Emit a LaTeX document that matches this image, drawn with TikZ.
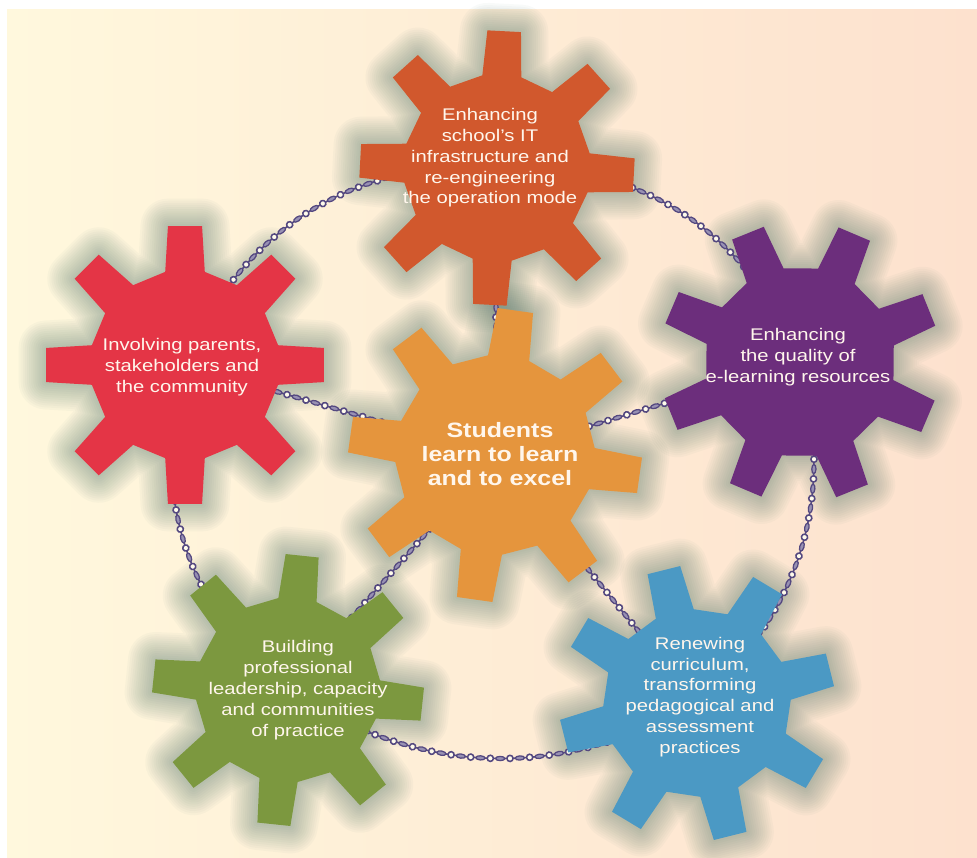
\documentclass[tikz,border=0pt]{standalone}
\usepackage{fontspec}
\setmainfont{Liberation Sans}
\newfontfamily\gearfont[FakeStretch=1.2]{Liberation Sans}
\usetikzlibrary{calc}
\usetikzlibrary{decorations.markings}

\definecolor{bgyellow}{RGB}{255,248,221}
\definecolor{bgpeach}{RGB}{253,225,206}
\definecolor{gearred}{RGB}{228,53,70}
\definecolor{gearrust}{RGB}{209,88,45}
\definecolor{gearpurple}{RGB}{108,46,124}
\definecolor{gearorange}{RGB}{229,149,61}
\definecolor{gearolive}{RGB}{124,152,63}
\definecolor{gearblue}{RGB}{75,153,196}
\definecolor{chaincol}{RGB}{84,72,128}
\definecolor{glowcol}{RGB}{60,105,95}
\definecolor{labelcol}{RGB}{255,246,236}

% outline of a gear with 8 teeth round the origin: rotation, outer radius
\newcommand{\gearpath}[2]{({#1-12}:{0.68*#2})
  \foreach \k in {0,...,7}{
    -- ({#1+45*\k-12}:{0.68*#2}) -- ({#1+45*\k-7}:{#2})
    -- ({#1+45*\k+7}:{#2}) -- ({#1+45*\k+12}:{0.68*#2})} -- cycle}

\tikzset{
        every picture/.style={x=0.025cm,y=-0.025cm},
        gearlabel/.style={text=labelcol,align=center,font=\gearfont\fontsize{12}{14.8}\selectfont},
        mainlabel/.style={text=labelcol,align=center,font=\gearfont\bfseries\fontsize{14.8}{17}\selectfont},
        glow/.style={draw=glowcol,opacity=0.03,line join=round},
        chain/.style={draw=chaincol,line width=1.1pt,
          postaction={decorate,decoration={markings,
            mark=between positions 0 and 1 step 14pt with {\draw[chaincol,line width=1.1pt,fill=bgyellow!60!white] (0,0) circle (2.2pt);}}},
          postaction={decorate,decoration={markings,
            mark=between positions 7pt and 1 step 14pt with {\draw[chaincol,line width=0.9pt,fill=chaincol!60!white] (0,0) ellipse (3.3pt and 1.5pt);}}}},
        }

\begin{document}
\begin{tikzpicture}
	\useasboundingbox (0,0) rectangle (977,857);
	\fill [white] (0,0) rectangle (977,857);
	% background
	\shade [left color=bgyellow,right color=bgpeach] (7,9) rectangle (977,857);

	% gear centres
	\coordinate (hub) at (495,455);
	\coordinate (infra) at (497,168);
	\coordinate (resources) at (800,362);
	\coordinate (curriculum) at (697,703);
	\coordinate (leadership) at (288,690);
	\coordinate (parents) at (185,365);

	% soft shadow round the gears
	\foreach \gx/\gy/\rot/\rad in {495/455/8/147,497/168/3/138,800/362/-22/140,697/703/-14/138,288/690/6/136,185/365/0/140}
		\foreach \w in {3,6,...,39}
			\draw [glow,line width=\w pt,shift={(\gx,\gy)}] \gearpath{\rot}{\rad};

	% chains from the hub
	\draw [chain] (hub) -- (infra);
	\draw [chain] (hub) -- (resources);
	\draw [chain] (hub) -- (curriculum);
	\draw [chain] (hub) -- (leadership);
	\draw [chain] (hub) -- (parents);

	% chains round the ring
	\draw [chain] (parents) to [bend left=36] (infra);
	\draw [chain] (infra) to [bend left=36] (resources);
	\draw [chain] (resources) to [bend left=32] (curriculum);
	\draw [chain] (curriculum) to [bend left=31] (leadership);
	\draw [chain] (leadership) to [bend left=33] (parents);

	% gears
	\foreach \gx/\gy/\rot/\rad/\col in {495/455/8/147/gearorange,497/168/3/138/gearrust,800/362/-22/140/gearpurple,697/703/-14/138/gearblue,288/690/6/136/gearolive,185/365/0/140/gearred}
		\fill [\col,shift={(\gx,\gy)}] \gearpath{\rot}{\rad};

	% labels
	\node [mainlabel] (hubtext) at (500,454) {Students\\learn to learn\\and to excel};
	\node [gearlabel] (infratext) at (490,158) {Enhancing\\school’s IT\\infrastructure and\\re-engineering\\the operation mode};
	\node [gearlabel] (resourcestext) at (798,357) {Enhancing\\the quality of\\e-learning resources};
	\node [gearlabel] (curriculumtext) at (700,697) {Renewing\\curriculum,\\transforming\\pedagogical and\\assessment\\practices};
	\node [gearlabel] (leadershiptext) at (298,690) {Building\\professional\\leadership, capacity\\and communities\\of practice};
	\node [gearlabel] (parentstext) at (182,367) {Involving parents,\\stakeholders and\\the community};
\end{tikzpicture}
\end{document}
